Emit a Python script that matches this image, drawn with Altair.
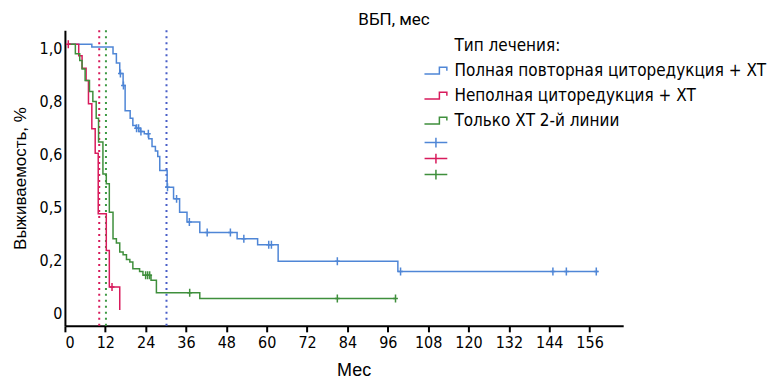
import altair as alt
import pandas as pd

# ---------------- data ----------------
groups = ["Полная повторная циторедукция + ХТ",
          "Неполная циторедукция + ХТ",
          "Только ХТ 2-й линии"]
legend_title = "Тип лечения:"

blue_t = [1, 8.0, 14.3, 15.3, 16.3, 17.3, 17.9, 19.4, 20.2, 21.1, 22.4, 23.6, 24.9,
          25.9, 26.9, 27.6, 28.2, 30.4, 32.3, 34.1, 36.3, 40.1, 51.2, 57.3, 63.4, 99.0, 158.6]
blue_s = [1.0, 0.99, 0.964, 0.93, 0.89, 0.845, 0.75, 0.722, 0.694, 0.684, 0.672, 0.663, 0.644,
          0.615, 0.598, 0.578, 0.525, 0.462, 0.418, 0.368, 0.331, 0.291, 0.268, 0.245, 0.183, 0.145, 0.145]
blue_cens = [16.5, 17.4, 21.3, 21.9, 22.6, 24.8, 30.5, 33.2, 37.0, 42.3, 49.2, 53.2,
             60.6, 61.4, 81.0, 99.8, 145.1, 149.1, 158.0]

red_t = [1, 4.1, 5.1, 6.3, 7.0, 8.0, 9.0, 9.9, 12.3, 13.2, 16.3]
red_s = [1.0, 0.957, 0.91, 0.864, 0.776, 0.682, 0.59, 0.362, 0.224, 0.086, 0.0]
red_cens = [1.0, 14.0]

green_t = [1, 3.1, 4.4, 5.1, 6.0, 7.3, 8.3, 9.3, 10.0, 11.3, 12.3, 13.2, 14.3, 15.3, 16.3,
           17.3, 18.3, 19.3, 20.2, 22.2, 23.2, 25.6, 27.2, 40.1, 98.3]
green_s = [1.0, 0.964, 0.939, 0.907, 0.864, 0.822, 0.785, 0.722, 0.632, 0.512, 0.475, 0.368,
           0.268, 0.252, 0.218, 0.208, 0.19, 0.18, 0.155, 0.145, 0.13, 0.112, 0.065, 0.043, 0.043]
green_cens = [24.0, 24.6, 25.2, 37.1, 81.0, 98.3]

medians = [30.2, 10.2, 12.2]

x_ticks = [0, 12, 24, 36, 48, 60, 72, 84, 96, 108, 120, 132, 144, 156]
y_tick_values = [0, 0.2, 0.4, 0.6, 0.8, 1.0]
y_tick_labels = ["0", "0,2", "0,5", "0,6", "0,8", "1,0"]

# ---------------- styling ----------------
line_colors = ["#4f86d6", "#d81b5c", "#3f8f3c"]
median_colors = ["#4a5fc8", "#d81b5c", "#3f9a45"]
COND = "DejaVu Sans Condensed, Liberation Sans Narrow, Roboto, sans-serif"
ARIAL = "Liberation Sans, Arial, sans-serif"

curves = [(blue_t, blue_s, blue_cens), (red_t, red_s, red_cens), (green_t, green_s, green_cens)]


def surv_at(t, times, vals):
    v = vals[0]
    for tt, vv in zip(times, vals):
        if tt <= t:
            v = vv
    return v


rows, crow = [], []
for g, (ts, ss, cs) in zip(groups, curves):
    for t, s in zip(ts, ss):
        rows.append({"t": t, "s": s, "group": g})
    for c in cs:
        crow.append({"t": c, "s": surv_at(c, ts, ss), "cgroup": "c_" + g})
lines_df = pd.DataFrame(rows)
cens_df = pd.DataFrame(crow)

label_expr = " : ".join(
    f"datum.value == {v} ? '{l}'" for v, l in zip(y_tick_values, y_tick_labels)
) + " : ''"

x_scale = alt.Scale(domain=[0, 166], nice=False, zero=False)
y_scale = alt.Scale(domain=[-0.06, 1.053], nice=False, zero=False)

x_axis = alt.Axis(values=x_ticks, title="Мес", grid=False, domainColor="black", domainWidth=2,
                  tickColor="black", tickWidth=2, tickSize=6, labelFont=COND, labelFontSize=16,
                  labelColor="black", labelPadding=3, titleFont=ARIAL, titleFontSize=18,
                  titleFontWeight="normal", titleColor="black", titlePadding=11, titleX=289)
y_axis = alt.Axis(values=y_tick_values, labelExpr=label_expr, title="Выживаемость, %", grid=False,
                  ticks=False, domainColor="black", domainWidth=2, labelFont=COND, labelFontSize=16,
                  labelColor="black", labelPadding=3, labelOffset=4, titleFont=ARIAL,
                  titleFontSize=17, titleFontWeight="normal", titleColor="black", titlePadding=10)

step_path = "M-1,0.3H0.3V-0.3H0.95V0"
plus_legend = "M-1.75,0H1.75M0,-0.75V0.75"
plus_mark = "M0,-1V1M-0.6,0H0.6"

lines = alt.Chart(lines_df).mark_line(interpolate="step-after", strokeWidth=1.5).encode(
    x=alt.X("t:Q", scale=x_scale, axis=x_axis),
    y=alt.Y("s:Q", scale=y_scale, axis=y_axis),
    stroke=alt.Stroke("group:N",
                      scale=alt.Scale(domain=[legend_title] + groups,
                                      range=["transparent"] + line_colors),
                      legend=alt.Legend(title=None, orient="none", legendX=359, legendY=3,
                                        symbolType=step_path, symbolSize=529,
                                        symbolStrokeWidth=1.5, symbolFillColor="transparent",
                                        labelFont=COND, labelFontSize=17, labelColor="black",
                                        labelOffset=6, rowPadding=4, padding=0, labelLimit=400)),
    order="t:Q",
)

cens = alt.Chart(cens_df).mark_point(shape=plus_mark, filled=False, size=64, strokeWidth=1.5,
                                     opacity=1).encode(
    x=alt.X("t:Q", scale=x_scale),
    y=alt.Y("s:Q", scale=y_scale),
    color=alt.Color("cgroup:N",
                    scale=alt.Scale(domain=["c_" + g for g in groups], range=line_colors),
                    legend=alt.Legend(title=None, orient="none", legendX=364, legendY=105,
                                      symbolType=plus_legend, symbolSize=169,
                                      symbolStrokeWidth=1.5, labelExpr="''", labelFontSize=1,
                                      rowPadding=-3, padding=0)),
)

med_layers = []
for m, col in zip(medians, median_colors):
    med_layers.append(
        alt.Chart(pd.DataFrame({"t": [m]})).mark_rule(
            color=col, strokeWidth=2, strokeDash=[2, 4]).encode(x=alt.X("t:Q", scale=x_scale))
    )

chart = alt.layer(*med_layers, lines, cens).properties(
    width=559, height=296,
    padding={"left": 3, "top": 3, "right": 5, "bottom": 5},
    title=alt.TitleParams("ВБП, мес", font="Roboto, sans-serif", fontSize=17,
                          fontWeight="normal", color="black", anchor="middle", dx=50, offset=0),
).configure_view(stroke=None)

chart.save("out.html", embed_options={"renderer": "svg", "actions": False})
